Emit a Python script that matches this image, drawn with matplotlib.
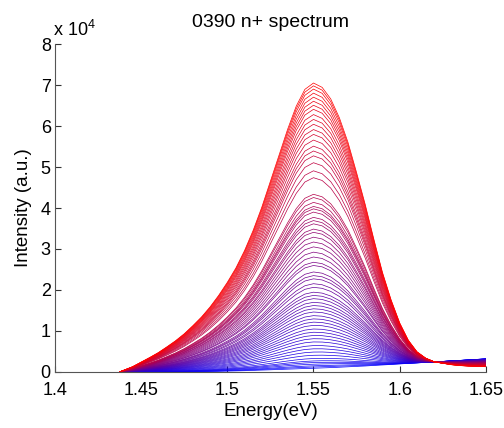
"""
0390 n+ spectrum: family of PL spectra, blue (weak) -> red (strong)
"""
import numpy as np
import matplotlib
matplotlib.use('Agg')
import matplotlib.pyplot as plt

plt.rcParams['font.family'] = ['Liberation Sans', 'DejaVu Sans']
plt.rcParams['mathtext.default'] = 'regular'

# energy grid (eV)
energy = [1.4375, 1.44, 1.445, 1.45, 1.455, 1.46, 1.465, 1.47, 1.475, 1.48,
          1.485, 1.49, 1.495, 1.5, 1.505, 1.51, 1.515, 1.52, 1.525, 1.53,
          1.535, 1.54, 1.545, 1.55, 1.555, 1.56, 1.565, 1.57, 1.575, 1.58,
          1.585, 1.59, 1.595, 1.6, 1.605, 1.61, 1.615, 1.62, 1.625, 1.63,
          1.635, 1.64, 1.645, 1.65]

# normalised shape of the strongest spectrum (peak = 1)
peak_shape = [0.0, 0.006, 0.018, 0.034, 0.05, 0.067, 0.087, 0.108, 0.132, 0.16,
              0.19, 0.225, 0.265, 0.31, 0.36, 0.42, 0.49, 0.57, 0.66, 0.75,
              0.84, 0.92, 0.978, 1.0, 0.985, 0.945, 0.88, 0.795, 0.69, 0.58,
              0.46, 0.345, 0.25, 0.17, 0.11, 0.07, 0.048, 0.035, 0.03, 0.025,
              0.022, 0.02, 0.019, 0.018]

# weakest spectrum (background ramp, counts)
floor_shape = [0, 0, 0, 0, 0, 0, 0, 0, 20, 50,
               75, 100, 150, 200, 250, 300, 370, 450, 520, 600,
               680, 750, 830, 900, 980, 1050, 1150, 1250, 1350, 1450,
               1580, 1700, 1820, 1950, 2080, 2200, 2320, 2450, 2570, 2700,
               2820, 2950, 3070, 3200]

# peak heights of the spectra (x 1e4), weakest -> strongest
peak_heights = [0.0, 0.03, 0.06, 0.1, 0.14, 0.18, 0.24, 0.32, 0.4, 0.48,
                0.56, 0.65, 0.73, 0.81, 0.89, 0.97, 1.06, 1.14, 1.22, 1.3,
                1.39, 1.47, 1.55, 1.63, 1.72, 1.8, 1.88, 2.0, 2.09, 2.21,
                2.29, 2.38, 2.54, 2.62, 2.75, 2.87, 3.0, 3.12, 3.24, 3.36,
                3.44, 3.57, 3.65, 3.73, 3.86, 3.94, 4.0, 4.1, 4.22, 4.3,
                4.71, 4.88, 5.08, 5.25, 5.37, 5.49, 5.64, 5.78, 5.9, 6.03,
                6.15, 6.27, 6.4, 6.5, 6.6, 6.7, 6.8, 6.9, 6.98, 7.05]

xticks = [1.4, 1.45, 1.5, 1.55, 1.6, 1.65]
yticks = [0, 1e4, 2e4, 3e4, 4e4, 5e4, 6e4, 7e4, 8e4]
ytick_labels = ['0', '1', '2', '3', '4', '5', '6', '7', '8']

fig = plt.figure(figsize=(5.04, 4.28), dpi=100)
ax = fig.add_axes([0.109, 0.131, 0.855, 0.766])

e = np.array(energy)
g = np.array(peak_shape)
h = np.array(floor_shape, dtype=float)
top = max(peak_heights)
n = len(peak_heights)
for i, p in enumerate(peak_heights):
    t = i / (n - 1)
    y = p * 1e4 * g + (1 - p / top) * h
    ax.plot(e, y, '-', color=(t, 0, 1 - t), linewidth=0.5)

ax.set_xlim(1.4, 1.65)
ax.set_ylim(0, 8e4)
ax.set_xticks(xticks)
ax.set_xticklabels([f'{v:g}' for v in xticks])
ax.set_yticks(yticks)
ax.set_yticklabels(ytick_labels)
ax.tick_params(direction='in', length=4, width=0.8, labelsize=13, colors='#333333',
               labelcolor='black')
ax.tick_params(axis='x', pad=7)
ax.tick_params(axis='y', pad=3)
for s in ('top', 'right'):
    ax.spines[s].set_visible(False)
for s in ('left', 'bottom'):
    ax.spines[s].set_color('#555555')
    ax.spines[s].set_linewidth(0.8)

ax.text(-0.005, 1.012, r'x 10$^{4}$', transform=ax.transAxes, fontsize=13,
        ha='left', va='bottom')
ax.set_title('0390 n+ spectrum', fontsize=14, pad=12)
ax.set_xlabel('Energy(eV)', fontsize=13.5, labelpad=3)
ax.set_ylabel('Intensity (a.u.)', fontsize=13.5, labelpad=6)

plt.savefig('out.png', dpi=100)
